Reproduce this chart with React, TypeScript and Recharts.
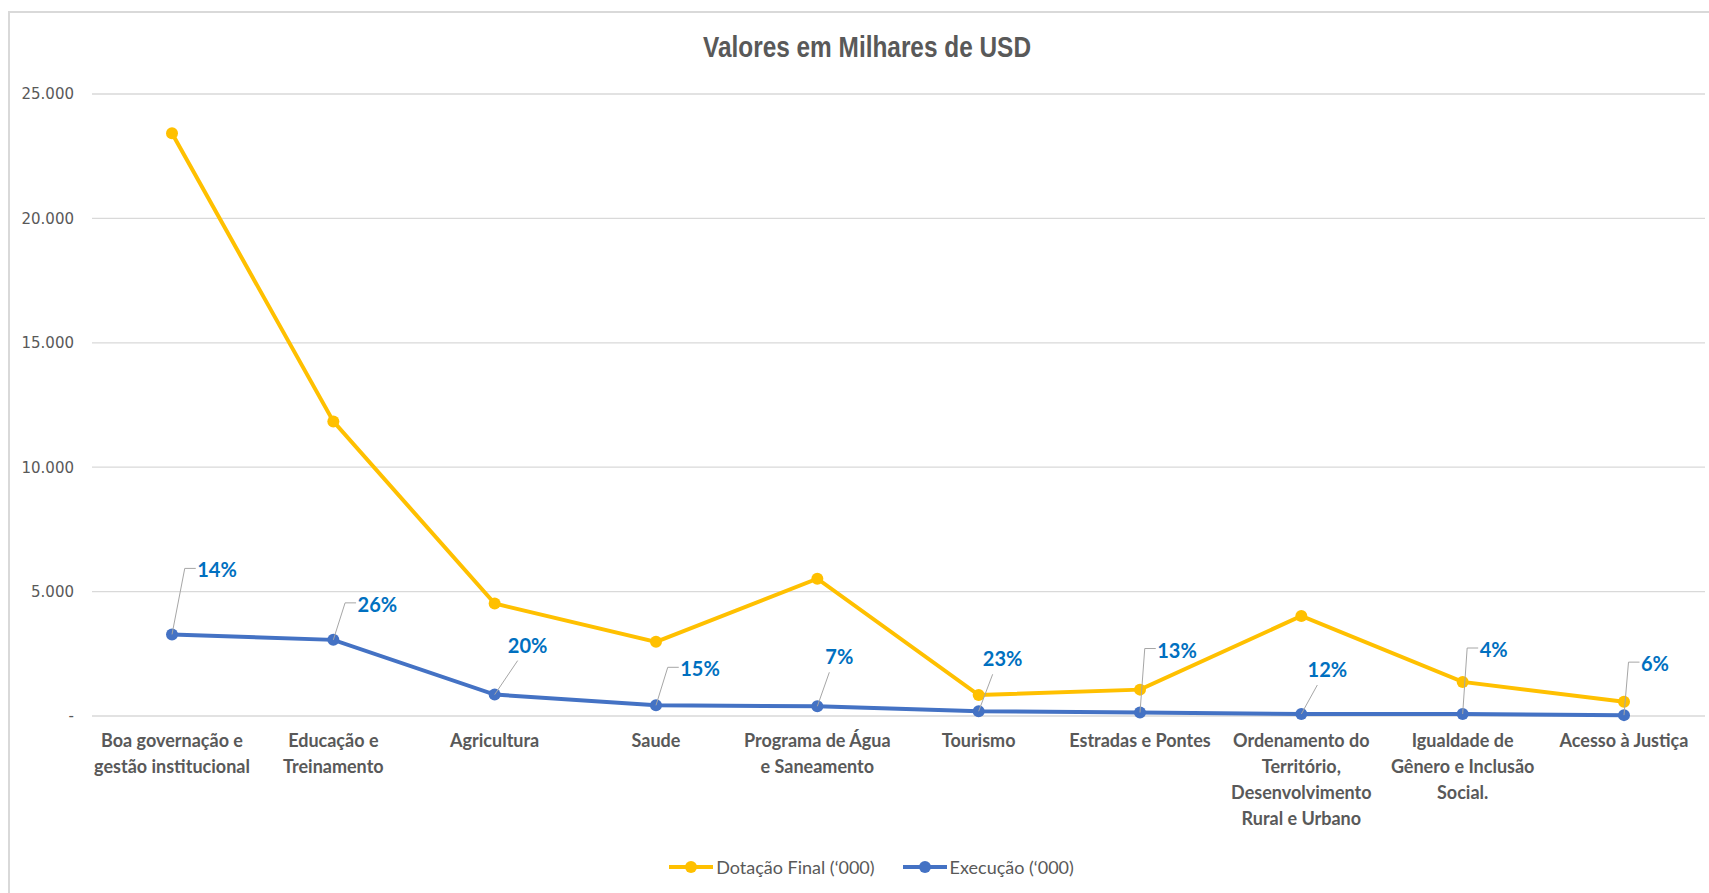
import React from "react";
import {
  LineChart,
  Line,
  XAxis,
  YAxis,
  CartesianGrid,
  Legend,
  LabelList,
} from "recharts";

const categories = [
  "Boa governação e\ngestão institucional",
  "Educação e\nTreinamento",
  "Agricultura",
  "Saude",
  "Programa de Água\ne Saneamento",
  "Tourismo",
  "Estradas e Pontes",
  "Ordenamento do\nTerritório,\nDesenvolvimento\nRural e Urbano",
  "Igualdade de\nGênero e Inclusão\nSocial.",
  "Acesso à Justiça",
];

const dotacao = [23420, 11840, 4520, 2980, 5520, 840, 1060, 4020, 1370, 570];
const execucao = [3280, 3060, 860, 430, 390, 190, 140, 80, 80, 35];
const execPct = ["14%", "26%", "20%", "15%", "7%", "23%", "13%", "12%", "4%", "6%"];
const yTicks = [0, 5000, 10000, 15000, 20000, 25000];

// label placement (text centre relative to point) and leader style
const labelOffsets = [
  [45, -64],
  [44, -35],
  [33, -49],
  [44, -36],
  [22, -49],
  [24, -52],
  [37, -62],
  [26, -44],
  [31, -64],
  [31, -51],
];
const leaderKind = ["elbow", "elbow", "diag", "elbow", "diag", "diag", "elbow", "diag", "elbow", "elbow"];

const data = categories.map((name, i) => ({
  name,
  dotacao: dotacao[i],
  execucao: execucao[i],
  pct: execPct[i],
}));

const YELLOW = "#FFC000";
const BLUE = "#4472C4";
const GRAY = "#595959";

const fmt = (v: number) => (v === 0 ? "-" : v.toLocaleString("de-DE"));

const XTick = (props: any) => {
  const { x, y, payload } = props;
  const lines = String(payload.value).split("\n");
  return (
    <g>
      {lines.map((l, i) => (
        <text
          key={i}
          x={x}
          y={y + 31 + i * 26}
          textAnchor="middle"
          fill={GRAY}
          fontFamily="Lato"
          fontWeight={700}
          fontSize={18}
        >
          {l}
        </text>
      ))}
    </g>
  );
};

const PctLabel = (props: any) => {
  const { x, y, index, value } = props;
  const [dx, dy] = labelOffsets[index];
  const w = String(value).length * 11.5;
  const left = dx - w / 2;
  let path = "";
  if (leaderKind[index] === "elbow") {
    path = `M${x},${y} L${x + left - 15},${y + dy - 2} L${x + left - 4},${y + dy - 2}`;
  } else {
    path = `M${x},${y} L${x + dx - 10},${y + dy + 15}`;
  }
  return (
    <g>
      <path d={path} stroke="#A6A6A6" strokeWidth={1} fill="none" />
      <text
        x={x + dx}
        y={y + dy}
        dy="0.35em"
        textAnchor="middle"
        fill="#0070C0"
        fontFamily="Lato"
        fontWeight={700}
        fontSize={20}
      >
        {value}
      </text>
    </g>
  );
};

const LegendContent = () => (
  <div
    style={{
      height: 40,
      display: "flex",
      justifyContent: "center",
      alignItems: "center",
      fontFamily: "Lato",
      fontSize: 18,
      color: GRAY,
      paddingLeft: 64,
    }}
  >
    {[
      { label: "Dotação Final (‘000)", color: YELLOW },
      { label: "Execução (‘000)", color: BLUE },
    ].map((it) => (
      <div key={it.label} style={{ display: "flex", alignItems: "center", marginRight: 27 }}>
        <svg width={46} height={14} style={{ marginRight: 2 }}>
          <line x1={1} y1={7} x2={45} y2={7} stroke={it.color} strokeWidth={4} />
          <circle cx={23} cy={7} r={6} fill={it.color} />
        </svg>
        <span>{it.label}</span>
      </div>
    ))}
  </div>
);

export default function App() {
  return (
    <div
      style={{
        position: "absolute",
        left: 0,
        top: 0,
        width: 1709,
        height: 893,
        overflow: "hidden",
        background: "#fff",
      }}
    >
      <div
        style={{
          position: "absolute",
          left: 8,
          top: 11,
          width: 1720,
          height: 900,
          borderLeft: "2px solid #D9D9D9",
          borderTop: "2px solid #D9D9D9",
        }}
      />
      <svg style={{ position: "absolute", left: 0, top: 0 }} width={1709} height={80}>
        <text
          x={867}
          y={57}
          textAnchor="middle"
          fontFamily="Liberation Sans"
          fontWeight={700}
          fontSize={30}
          fill={GRAY}
          textLength={328}
          lengthAdjust="spacingAndGlyphs"
        >
          Valores em Milhares de USD
        </text>
      </svg>
      <div style={{ position: "absolute", left: 0, top: 0 }}>
        <LineChart
          width={1709}
          height={893}
          data={data}
          margin={{ top: 94, right: 4, left: 0, bottom: 6 }}
        >
          <CartesianGrid vertical={false} stroke="#D9D9D9" strokeWidth={1.3} />
          <XAxis
            dataKey="name"
            axisLine={false}
            tickLine={false}
            tickSize={0}
            tickMargin={0}
            interval={0}
            height={131}
            padding={{ left: 80, right: 81 }}
            tick={<XTick />}
          />
          <YAxis
            domain={[0, 25000]}
            ticks={yTicks}
            width={92}
            axisLine={false}
            tickLine={false}
            tickMargin={12}
            tickFormatter={fmt}
            tick={{ fill: GRAY, fontSize: 15, fontFamily: "DejaVu Sans" }}
          />
          <Legend verticalAlign="bottom" content={<LegendContent />} />
          <Line
            dataKey="dotacao"
            stroke={YELLOW}
            strokeWidth={4}
            dot={{ r: 6, fill: YELLOW, stroke: YELLOW, strokeWidth: 0 }}
            isAnimationActive={false}
          />
          <Line
            dataKey="execucao"
            stroke={BLUE}
            strokeWidth={4}
            dot={{ r: 6, fill: BLUE, stroke: BLUE, strokeWidth: 0 }}
            isAnimationActive={false}
          >
            <LabelList dataKey="pct" content={<PctLabel />} />
          </Line>
        </LineChart>
      </div>
    </div>
  );
}
